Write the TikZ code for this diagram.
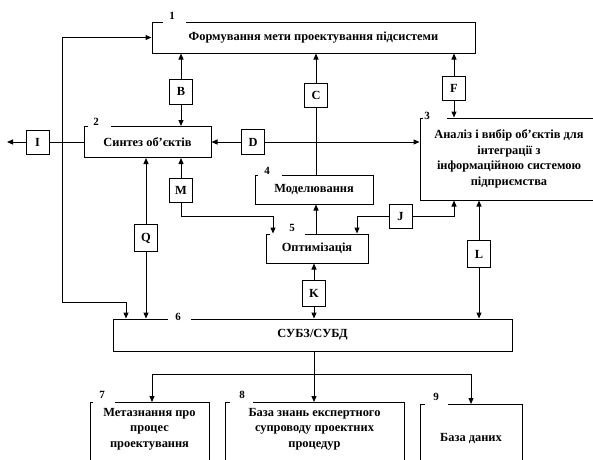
\documentclass[tikz,border=0pt]{standalone}
\usepackage{fontspec}
\setmainfont{Liberation Serif}
\usetikzlibrary{arrows.meta}
\begin{document}
\begin{tikzpicture}[x=1pt,y=-1pt,
  every node/.style={font=\bfseries\fontsize{12.4}{15.5}\selectfont},
  box/.style={draw, line width=1pt, inner sep=0pt, align=center},
  txt/.style={inner sep=0pt, align=center},
  lbox/.style={draw, line width=1pt, minimum width=23pt, minimum height=24pt, inner sep=0pt, fill=white},
  gapbox/.style={fill=white, minimum height=4pt, inner sep=0pt, anchor=west},
  num/.style={font=\bfseries\fontsize{11}{12}\selectfont, inner sep=0pt},
  con/.style={line width=1pt},
  arr/.style={con, -{Triangle[length=6pt,width=5pt]}},
  dbl/.style={con, {Triangle[length=6pt,width=5pt]}-{Triangle[length=6pt,width=5pt]}}]
\useasboundingbox (0,0) rectangle (593,459);
\clip (0,0) rectangle (593,459);
% main boxes
\node[box, minimum width=323pt, minimum height=31pt] (b1) at (313.5,37.5) {Формування мети проектування підсистеми};
\node[box, minimum width=127pt, minimum height=31pt] (b2) at (147.5,142) {Синтез об’єктів};
\node[box, minimum width=178pt, minimum height=82pt] (b3) at (509,159) {Аналіз і вибір об’єктів для\\інтеграції з\\інформаційною системою\\підприємства};
\node[box, minimum width=118pt, minimum height=29pt] (b4) at (314,189.5) {Моделювання};
\node[box, minimum width=102pt, minimum height=29pt] (b5) at (317,248.5) {Оптимізація};
\node[box, minimum width=399pt, minimum height=32pt] (b6) at (312.5,335) {СУБЗ/СУБД};
\node[box, minimum width=119pt, minimum height=70pt, anchor=north west] (b7) at (90,402) {};
\node[box, minimum width=179pt, minimum height=70pt, anchor=north west] (b8) at (225,402) {};
\node[box, minimum width=102pt, minimum height=70pt, anchor=north west] (b9) at (420,404) {};
\node[txt, anchor=north] (t7) at (149.5,408) {Метазнання про\\процес\\проектування};
\node[txt, anchor=north] (t8) at (314.5,408) {База знань експертного\\супроводу проектних\\процедур};
\node[txt, anchor=base] (t9) at (471,441) {База даних};
% gaps in top edges
\node[gapbox, minimum width=23pt] (g1) at (163,22) {};
\node[gapbox, minimum width=23pt] (g2) at (88,127) {};
\node[gapbox, minimum width=24pt] (g3) at (423,118) {};
\node[gapbox, minimum width=24pt] (g4) at (258,175) {};
\node[gapbox, minimum width=35pt] (g5) at (270,234) {};
\node[gapbox, minimum width=23pt] (g6) at (168,319) {};
\node[gapbox, minimum width=22pt] (g7) at (93,402) {};
\node[gapbox, minimum width=23pt] (g8) at (230,402) {};
\node[gapbox, minimum width=23pt] (g9) at (425,404) {};
% numbers
\node[num] (n1) at (172,16) {1};
\node[num] (n2) at (96,122) {2};
\node[num] (n3) at (427,116) {3};
\node[num] (n4) at (267,171) {4};
\node[num] (n5) at (292,228) {5};
\node[num] (n6) at (178,317) {6};
\node[num] (n7) at (102,395) {7};
\node[num] (n8) at (242,395) {8};
\node[num] (n9) at (436,397) {9};
% letter boxes
\node[lbox] (I) at (37.5,142) {I};
\node[lbox, minimum height=25pt] (B) at (181,91.5) {B};
\node[lbox, minimum height=25pt] (D) at (253,142) {D};
\node[lbox] (C) at (316,95.5) {C};
\node[lbox] (F) at (454,88.5) {F};
\node[lbox] (M) at (181,190) {M};
\node[lbox, minimum height=27pt] (Q) at (146,238) {Q};
\node[lbox] (J) at (400.5,216.5) {J};
\node[lbox, minimum height=27pt] (L) at (479,254) {L};
\node[lbox, minimum height=26pt] (K) at (314,293) {K};
% coordinates
\coordinate (lt) at (62,37.5);
\coordinate (lb) at (62,302);
\coordinate (lq) at (126,302);
\coordinate (iend) at (7,142);
\coordinate (mk) at (273,216);
\coordinate (jl) at (357,216.5);
\coordinate (jr) at (454,216.5);
\coordinate (bl) at (152,374);
\coordinate (br) at (471,374);
% connectors
\draw[dbl] (b1.west) -- (lt) -- (lb) -- (lq) -- (lq |- b6.north);
\draw[con] (b2.west) -- (I.east);
\draw[arr] (I.west) -- (iend);
\draw[arr] (B.north) -- (B.north |- b1.south);
\draw[arr] (B.south) -- (B.south |- b2.north);
\draw[arr] (D.west) -- (b2.east);
\draw[arr] (D.east) -- (D.east -| b3.west);
\draw[arr] (C.north) -- (C.north |- b1.south);
\draw[con] (C.south) -- (C.south |- b4.north);
\draw[arr] (b5.north -| C) -- (b4.south -| C);
\draw[arr] (F.north) -- (F.north |- b1.south);
\draw[arr] (F.south) -- (F.south |- b3.north);
\draw[arr] (M.north) -- (M.north |- b2.south);
\draw[arr] (M.south) |- (mk) -- (mk |- b5.north);
\draw[arr] (J.west) -- (jl) -- (jl |- b5.north);
\draw[arr] (J.east) -- (jr) -- (jr |- b3.south);
\draw[arr] (Q.north) -- (Q.north |- b2.south);
\draw[arr] (Q.south) -- (Q.south |- b6.north);
\draw[arr] (L.north) -- (L.north |- b3.south);
\draw[arr] (L.south) -- (L.south |- b6.north);
\draw[arr] (K.north) -- (K.north |- b5.south);
\draw[arr] (K.south) -- (K.south |- b6.north);
\draw[arr] (b6.south -| K) -- (b8.north -| K);
\draw[dbl] (bl |- b7.north) -- (bl) -- (br) -- (br |- b9.north);
\end{tikzpicture}
\end{document}
